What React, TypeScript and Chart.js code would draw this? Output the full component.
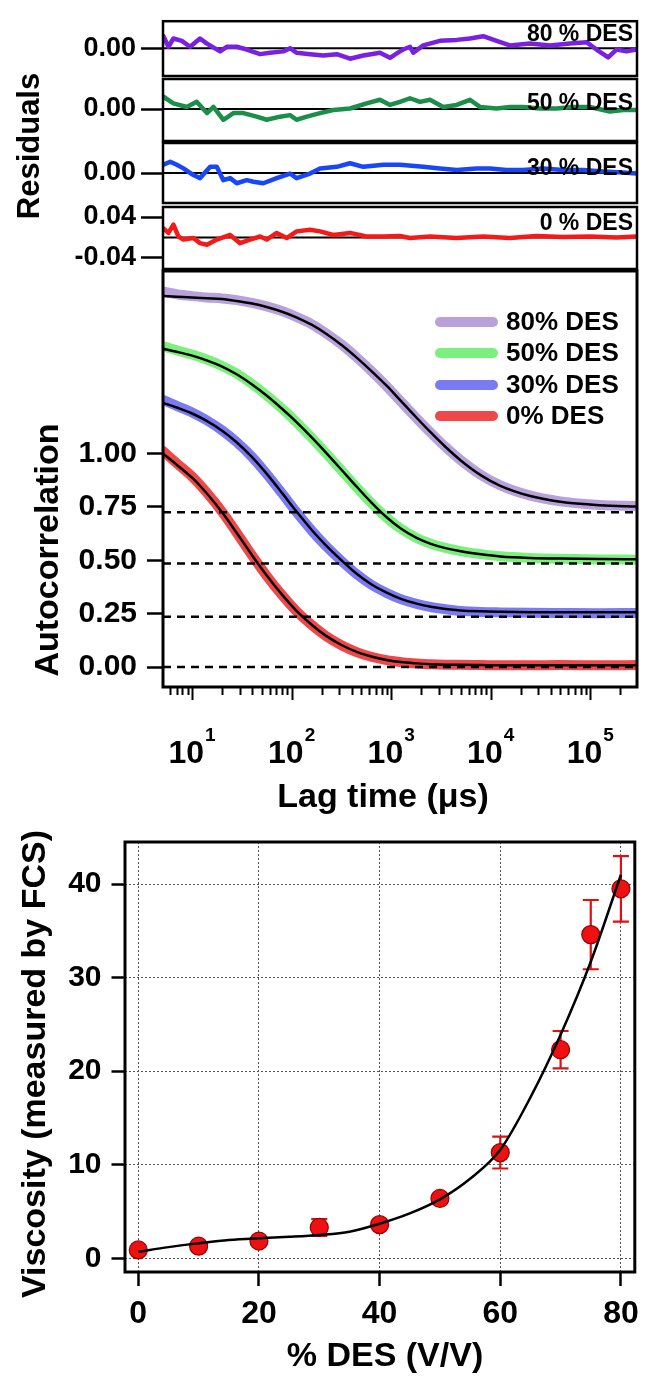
import React, { useEffect, useRef } from 'react';
import { Chart, registerables } from 'chart.js';

Chart.register(...registerables);

const FONT = '"Liberation Sans", Arial, Helvetica, sans-serif';
Chart.defaults.font.family = FONT;
Chart.defaults.color = '#000';
const W = 648;
const H = 1376;

// ---------------- Autocorrelation data ----------------
const LAG_MIN = 5.1;
const LAG_MAX = 2.95e5;
const lagTimes = [5.1, 7, 10, 14, 20, 28, 40, 56, 80, 110, 160, 220, 320, 450, 630, 900, 1250, 1800, 2500, 3500, 5000, 8000, 12500, 25000, 50000, 125000, 295000];

const fit80 = [1.738, 1.735, 1.732, 1.728, 1.724, 1.715, 1.703, 1.687, 1.665, 1.640, 1.603, 1.563, 1.508, 1.450, 1.388, 1.318, 1.247, 1.168, 1.099, 1.032, 0.968, 0.898, 0.849, 0.801, 0.774, 0.758, 0.752];
const data80 = [1.760, 1.747, 1.738, 1.732, 1.727, 1.719, 1.706, 1.690, 1.668, 1.642, 1.606, 1.565, 1.510, 1.451, 1.388, 1.316, 1.244, 1.166, 1.098, 1.032, 0.969, 0.900, 0.851, 0.803, 0.776, 0.759, 0.755];
const fit50 = [1.491, 1.477, 1.459, 1.437, 1.408, 1.372, 1.324, 1.272, 1.210, 1.151, 1.075, 1.006, 0.922, 0.845, 0.772, 0.702, 0.649, 0.605, 0.577, 0.557, 0.542, 0.528, 0.518, 0.511, 0.508, 0.506, 0.505];
const data50 = [1.503, 1.484, 1.464, 1.441, 1.411, 1.375, 1.326, 1.273, 1.211, 1.150, 1.073, 1.003, 0.919, 0.842, 0.769, 0.700, 0.648, 0.605, 0.578, 0.558, 0.543, 0.529, 0.519, 0.511, 0.507, 0.504, 0.503];
const fit30 = [1.238, 1.216, 1.188, 1.153, 1.107, 1.053, 0.983, 0.906, 0.816, 0.733, 0.641, 0.571, 0.498, 0.437, 0.388, 0.348, 0.319, 0.297, 0.282, 0.272, 0.265, 0.261, 0.259, 0.257, 0.256, 0.256, 0.256];
const data30 = [1.252, 1.224, 1.193, 1.156, 1.109, 1.054, 0.984, 0.905, 0.814, 0.730, 0.638, 0.568, 0.495, 0.435, 0.386, 0.347, 0.318, 0.296, 0.281, 0.271, 0.263, 0.258, 0.256, 0.254, 0.253, 0.252, 0.253];
const fit0 = [1.000, 0.948, 0.887, 0.814, 0.725, 0.629, 0.524, 0.430, 0.339, 0.267, 0.197, 0.147, 0.102, 0.071, 0.049, 0.033, 0.023, 0.017, 0.013, 0.011, 0.010, 0.009, 0.008, 0.008, 0.008, 0.008, 0.008];
const data0 = [1.012, 0.955, 0.892, 0.818, 0.728, 0.630, 0.523, 0.428, 0.337, 0.265, 0.196, 0.146, 0.101, 0.070, 0.048, 0.032, 0.023, 0.016, 0.013, 0.011, 0.010, 0.009, 0.008, 0.008, 0.009, 0.008, 0.009];

const plateauLevels = [0.725, 0.485, 0.235, 0];
const autoYTicks = [0, 0.25, 0.5, 0.75, 1];
const lagMajorTicks = [10, 100, 1000, 10000, 100000];
const lagTickExponents = ['1', '2', '3', '4', '5'];
const legendLabels = ['80% DES', '50% DES', '30% DES', '0% DES'];

// ---------------- Residuals data ----------------
const res80Lag = [5.15, 5.78, 6.49, 7.88, 9.55, 12.0, 14.1, 19.1, 22.3, 28.1, 35.4, 48.2, 60.7, 82.6, 96.4, 112, 153, 208, 284, 386, 525, 772, 973, 1225, 1324, 1545, 1667, 2100, 3090, 4550, 6180, 8410, 11460, 15590, 24770, 39270, 62370, 91800, 115600, 151300, 183600, 231200, 291700];
const res80 = [0.026, 0.003, 0.021, 0.016, 0.003, 0.021, 0.010, -0.007, 0.003, 0.003, -0.003, -0.013, -0.010, -0.007, 0.000, -0.010, -0.013, -0.016, -0.013, -0.023, -0.016, -0.010, -0.021, -0.007, -0.003, 0.003, -0.010, 0.006, 0.016, 0.018, 0.021, 0.026, 0.016, 0.006, 0.010, 0.006, 0.010, 0.013, -0.003, -0.020, -0.003, -0.007, -0.003];
const res50Lag = [5.15, 6.49, 8.85, 11.1, 14.1, 16.4, 20.6, 26.0, 32.7, 44.6, 56.2, 76.5, 96.4, 112, 142, 193, 262, 386, 566, 772, 973, 1225, 1545, 1948, 2454, 3340, 4550, 6180, 7800, 11460, 15590, 21170, 31180, 45860, 67350, 99100, 157400, 214100, 291700];
const res50 = [0.024, 0.011, 0.004, 0.014, -0.008, 0.004, -0.021, -0.008, -0.008, -0.015, -0.021, -0.015, -0.012, -0.021, -0.015, -0.008, -0.002, 0.001, 0.011, 0.018, 0.008, 0.014, 0.021, 0.014, 0.018, 0.004, 0.008, 0.018, 0.004, 0.001, 0.004, 0.004, 0.001, 0.001, 0.004, 0.004, -0.005, -0.002, -0.002];
const res30Lag = [5.15, 6.02, 7.02, 8.18, 10.3, 12.0, 15.2, 17.7, 20.6, 24.1, 28.1, 35.4, 41.3, 51.9, 70.8, 96.4, 112, 153, 193, 284, 386, 525, 838, 1225, 2100, 3090, 4550, 7220, 9820, 14380, 21170, 33640, 53400, 84800, 134500, 214100, 291700];
const res30 = [0.016, 0.022, 0.016, 0.009, -0.004, -0.010, 0.012, 0.012, -0.014, -0.010, -0.020, -0.014, -0.017, -0.020, -0.010, -0.001, -0.010, -0.001, 0.009, 0.012, 0.019, 0.012, 0.016, 0.016, 0.012, 0.009, 0.006, 0.009, 0.009, 0.006, 0.006, 0.009, 0.006, 0.006, 0.003, 0.001, -0.001];
const res0Lag = [5.15, 5.78, 6.49, 7.28, 8.18, 10.3, 12.0, 14.1, 17.7, 24.1, 30.3, 38.2, 48.2, 56.2, 70.8, 89.3, 112, 153, 193, 262, 386, 566, 838, 1225, 1545, 2454, 4550, 8410, 15590, 28870, 53400, 99100, 183600, 291700];
const res0 = [0.018, 0.009, 0.025, 0.002, -0.004, -0.001, -0.011, -0.014, -0.004, 0.005, -0.011, -0.004, 0.002, -0.004, 0.009, -0.001, 0.012, 0.015, 0.012, 0.005, 0.009, 0.002, 0.002, 0.003, -0.001, 0.002, -0.001, 0.002, -0.001, 0.003, 0.001, 0.002, 0.000, 0.002];

// ---------------- Viscosity data ----------------
const desPercent = [0, 10, 20, 30, 40, 50, 60, 70, 75, 80];
const viscosity = [0.9, 1.3, 1.85, 3.3, 3.6, 6.4, 11.3, 22.3, 34.6, 39.5];
const viscosityErr = [0.2, 0.2, 0.3, 0.9, 0.4, 0.5, 1.7, 2.0, 3.7, 3.5];
const viscFitX = [0, 5, 10, 15, 20, 25, 30, 35, 40, 45, 50, 55, 60, 65, 70, 75, 80];
const viscFitY = [0.7, 1.2, 1.6, 1.95, 2.15, 2.3, 2.5, 2.85, 3.7, 4.8, 6.3, 8.5, 11.6, 17.2, 23.9, 31.7, 41.0];
const viscXTicks = [0, 20, 40, 60, 80];
const viscYTicks = [0, 10, 20, 30, 40];

// ---------------- helpers ----------------
const bold = (s: number) => `bold ${s}px ${FONT}`;
const pts = (xs: number[], ys: number[]) => xs.map((x, i) => ({ x, y: ys[i] }));

type Txt = { t: string; x: number; y: number; size: number; align?: CanvasTextAlign; rot?: boolean; baseline?: CanvasTextBaseline };

const textPlugin = (id: string, items: Txt[]) => ({
  id,
  afterDraw(chart: any) {
    const ctx = chart.ctx;
    for (const it of items) {
      ctx.save();
      ctx.fillStyle = '#000';
      ctx.font = bold(it.size);
      ctx.textAlign = it.align ?? 'center';
      ctx.textBaseline = it.baseline ?? 'alphabetic';
      ctx.translate(it.x, it.y);
      if (it.rot) ctx.rotate(-Math.PI / 2);
      ctx.fillText(it.t, 0, 0);
      ctx.restore();
    }
  },
});

const framePlugin = (lw: number) => ({
  id: 'frame',
  afterDatasetsDraw(chart: any) {
    const { ctx, chartArea: a } = chart;
    ctx.save();
    ctx.strokeStyle = '#000';
    ctx.lineWidth = lw;
    ctx.strokeRect(a.left, a.top, a.right - a.left, a.bottom - a.top);
    ctx.restore();
  },
});

const baseOptions = (padding: any) => ({
  responsive: false,
  maintainAspectRatio: false,
  animation: false,
  events: [],
  devicePixelRatio: 1,
  layout: { padding },
  plugins: { legend: { display: false }, tooltip: { enabled: false } },
});

const fixedTicks = (vals: number[]) => (s: any) => {
  s.ticks = vals.map((v) => ({ value: v }));
};

// ---------------- residual panels ----------------
const residualPanels = [
  { label: '80 % DES', lags: res80Lag, vals: res80, color: '#7a20e2', top: 15, bottom: 76, min: -0.0605, max: 0.0586, ticks: [0], labelY: 40.5 },
  { label: '50 % DES', lags: res50Lag, vals: res50, color: '#1b8f4a', top: 79, bottom: 141, min: -0.0625, max: 0.0586, ticks: [0], labelY: 110 },
  { label: '30 % DES', lags: res30Lag, vals: res30, color: '#1946f7', top: 143, bottom: 203, min: -0.0586, max: 0.0586, ticks: [0], labelY: 175 },
  { label: '0 % DES', lags: res0Lag, vals: res0, color: '#f51a1a', top: 207, bottom: 269, min: -0.0615, max: 0.0596, ticks: [-0.04, 0.04], labelY: 230 },
];

function residualConfig(p: any, idx: number) {
  const texts: Txt[] = [{ t: p.label, x: 633, y: p.labelY, size: 23, align: 'right' }];
  if (idx === 0) texts.push({ t: 'Residuals', x: 39, y: 146, size: 31, rot: true });
  return {
    type: 'line',
    data: {
      datasets: [
        { data: pts(p.lags, p.vals), borderColor: p.color, borderWidth: 4.5, pointRadius: 0, tension: 0, borderJoinStyle: 'round', borderCapStyle: 'round', order: 0 },
        { data: [{ x: LAG_MIN, y: 0 }, { x: LAG_MAX, y: 0 }], borderColor: '#000', borderWidth: 2, pointRadius: 0, order: 1 },
      ],
    },
    options: {
      ...baseOptions({ top: p.top, bottom: H - p.bottom, left: 0, right: W - 637 }),
      scales: {
        x: { type: 'logarithmic', min: LAG_MIN, max: LAG_MAX, display: false },
        y: {
          type: 'linear',
          min: p.min,
          max: p.max,
          afterFit: (s: any) => { s.width = 163; },
          afterBuildTicks: fixedTicks(p.ticks),
          ticks: { callback: (v: any) => Number(v).toFixed(2), font: { size: 27, weight: 'bold', family: FONT }, color: '#000', padding: 5 },
          grid: { drawOnChartArea: false, drawTicks: true, tickLength: 22, tickWidth: 2.5, tickColor: '#000' },
          border: { display: false },
        },
      },
    },
    plugins: [framePlugin(2.5), textPlugin('resText' + idx, texts)],
  };
}

// ---------------- main autocorrelation chart ----------------
const mainSeries = [
  { fit: fit80, data: data80, color: '#b9a1dc' },
  { fit: fit50, data: data50, color: '#7cf07c' },
  { fit: fit30, data: data30, color: '#7a7af2' },
  { fit: fit0, data: data0, color: '#f04848' },
];

const lagMinorTicks: number[] = [];
for (let d = 1; d <= 1e5; d *= 10) {
  for (let k = 2; k <= 9; k++) {
    const v = k * d;
    if (v >= LAG_MIN && v <= LAG_MAX) lagMinorTicks.push(v);
  }
}

const lagAxisPlugin = {
  id: 'lagAxis',
  afterDraw(chart: any) {
    const { ctx, chartArea } = chart;
    const xs = chart.scales.x;
    const b = chartArea.bottom;
    ctx.save();
    ctx.strokeStyle = '#000';
    ctx.lineWidth = 2;
    ctx.beginPath();
    for (const v of lagMinorTicks) {
      const px = Math.round(xs.getPixelForValue(v)) + 0.5;
      ctx.moveTo(px, b);
      ctx.lineTo(px, b + 8);
    }
    for (const v of lagMajorTicks) {
      const px = Math.round(xs.getPixelForValue(v)) + 0.5;
      ctx.moveTo(px, b);
      ctx.lineTo(px, b + 13);
    }
    ctx.stroke();
    ctx.fillStyle = '#000';
    ctx.textAlign = 'left';
    ctx.textBaseline = 'alphabetic';
    lagMajorTicks.forEach((v, i) => {
      const px = xs.getPixelForValue(v);
      ctx.font = bold(32);
      const w1 = ctx.measureText('10').width;
      ctx.font = bold(19);
      const w2 = ctx.measureText(lagTickExponents[i]).width;
      const start = px - (w1 + w2 + 1) / 2;
      ctx.font = bold(32);
      ctx.fillText('10', start, 763);
      ctx.font = bold(19);
      ctx.fillText(lagTickExponents[i], start + w1 + 1, 741);
    });
    // legend
    const rows = [322, 353, 385, 416];
    legendLabels.forEach((lab, i) => {
      ctx.strokeStyle = mainSeries[i].color;
      ctx.lineWidth = 10;
      ctx.lineCap = 'round';
      ctx.beginPath();
      ctx.moveTo(440, rows[i]);
      ctx.lineTo(493, rows[i]);
      ctx.stroke();
      ctx.fillStyle = '#000';
      ctx.font = bold(26);
      ctx.textBaseline = 'middle';
      ctx.fillText(lab, 506, rows[i] + 1);
    });
    ctx.restore();
  },
};

function mainConfig() {
  const datasets: any[] = [];
  mainSeries.forEach((s) => {
    datasets.push({ data: pts(lagTimes, s.fit), borderColor: '#000', borderWidth: 2.5, pointRadius: 0, cubicInterpolationMode: 'monotone', order: 0 });
  });
  plateauLevels.forEach((v) => {
    datasets.push({ data: [{ x: LAG_MIN, y: v }, { x: LAG_MAX, y: v }], borderColor: '#000', borderWidth: 2.5, borderDash: [8, 6], pointRadius: 0, order: 1 });
  });
  mainSeries.forEach((s) => {
    datasets.push({ data: pts(lagTimes, s.data), borderColor: s.color, borderWidth: 10, pointRadius: 0, cubicInterpolationMode: 'monotone', borderCapStyle: 'round', borderJoinStyle: 'round', order: 2 });
  });
  return {
    type: 'line',
    data: { datasets },
    options: {
      ...baseOptions({ top: 271, bottom: H - 687, left: 0, right: W - 637 }),
      scales: {
        x: { type: 'logarithmic', min: LAG_MIN, max: LAG_MAX, display: false },
        y: {
          type: 'linear',
          min: -0.0937,
          max: 1.8557,
          afterFit: (s: any) => { s.width = 163; },
          afterBuildTicks: fixedTicks(autoYTicks),
          ticks: { callback: (v: any) => Number(v).toFixed(2), font: { size: 30, weight: 'bold', family: FONT }, color: '#000', padding: 10 },
          grid: { drawOnChartArea: false, drawTicks: true, tickLength: 16, tickWidth: 2.5, tickColor: '#000' },
          border: { display: false },
        },
      },
    },
    plugins: [
      framePlugin(3),
      lagAxisPlugin,
      textPlugin('mainText', [
        { t: 'Autocorrelation', x: 58, y: 550, size: 34, rot: true },
        { t: 'Lag time (μs)', x: 383, y: 807, size: 34 },
      ]),
    ],
  };
}

// ---------------- viscosity chart ----------------
const errorBarPlugin = {
  id: 'errorBars',
  beforeDatasetsDraw(chart: any) {
    const { ctx } = chart;
    const xs = chart.scales.x;
    const ys = chart.scales.y;
    ctx.save();
    ctx.strokeStyle = '#e01010';
    ctx.lineWidth = 2.2;
    desPercent.forEach((x, i) => {
      const px = xs.getPixelForValue(x);
      const top = ys.getPixelForValue(viscosity[i] + viscosityErr[i]);
      const bot = ys.getPixelForValue(viscosity[i] - viscosityErr[i]);
      ctx.beginPath();
      ctx.moveTo(px, top);
      ctx.lineTo(px, bot);
      ctx.moveTo(px - 8, top);
      ctx.lineTo(px + 8, top);
      ctx.moveTo(px - 8, bot);
      ctx.lineTo(px + 8, bot);
      ctx.stroke();
    });
    ctx.restore();
  },
};

function viscConfig() {
  return {
    type: 'line',
    data: {
      datasets: [
        { data: pts(viscFitX, viscFitY), borderColor: '#000', borderWidth: 2.5, pointRadius: 0, cubicInterpolationMode: 'monotone', order: 0 },
        { data: pts(desPercent, viscosity), showLine: false, pointRadius: 9, pointBackgroundColor: '#ee1111', pointBorderColor: '#9a0000', pointBorderWidth: 1.2, order: 1 },
      ],
    },
    options: {
      ...baseOptions({ top: 842, bottom: 0, left: 0, right: 1.5 }),
      scales: {
        x: {
          type: 'linear',
          min: -2.2,
          max: 82.3,
          afterFit: (s: any) => { s.height = 104; },
          afterBuildTicks: fixedTicks(viscXTicks),
          ticks: { callback: (v: any) => String(v), font: { size: 32, weight: 'bold', family: FONT }, color: '#000', padding: 9, maxRotation: 0 },
          grid: { color: '#555', lineWidth: 1, drawOnChartArea: true, drawTicks: true, tickLength: 14, tickWidth: 2.5, tickColor: '#000', tickBorderDash: [] },
          border: { display: false, dash: [2, 2] },
        },
        y: {
          type: 'linear',
          min: -1.46,
          max: 44.5,
          afterFit: (s: any) => { s.width = 125; },
          afterBuildTicks: fixedTicks(viscYTicks),
          ticks: { callback: (v: any) => String(v), font: { size: 30, weight: 'bold', family: FONT }, color: '#000', padding: 10 },
          grid: { color: '#555', lineWidth: 1, drawOnChartArea: true, drawTicks: true, tickLength: 13.5, tickWidth: 2.5, tickColor: '#000', tickBorderDash: [] },
          border: { display: false, dash: [2, 2] },
        },
      },
    },
    plugins: [
      framePlugin(3),
      errorBarPlugin,
      textPlugin('viscText', [
        { t: 'Viscosity (measured by FCS)', x: 45, y: 1064, size: 34, rot: true },
        { t: '% DES (V/V)', x: 385, y: 1366, size: 34 },
      ]),
    ],
  };
}

// ---------------- components ----------------
function ChartCanvas({ make }: { make: () => any }) {
  const ref = useRef<HTMLCanvasElement>(null);
  useEffect(() => {
    const chart = new Chart(ref.current as HTMLCanvasElement, make());
    return () => chart.destroy();
  }, []);
  return (
    <canvas
      ref={ref}
      width={W}
      height={H}
      style={{ position: 'absolute', left: 0, top: 0, width: W, height: H }}
    />
  );
}

export default function App() {
  return (
    <div style={{ position: 'absolute', left: 0, top: 0, width: W, height: H, background: '#fff', overflow: 'hidden' }}>
      {residualPanels.map((p, i) => (
        <ChartCanvas key={'r' + i} make={() => residualConfig(p, i)} />
      ))}
      <ChartCanvas make={mainConfig} />
      <ChartCanvas make={viscConfig} />
    </div>
  );
}
